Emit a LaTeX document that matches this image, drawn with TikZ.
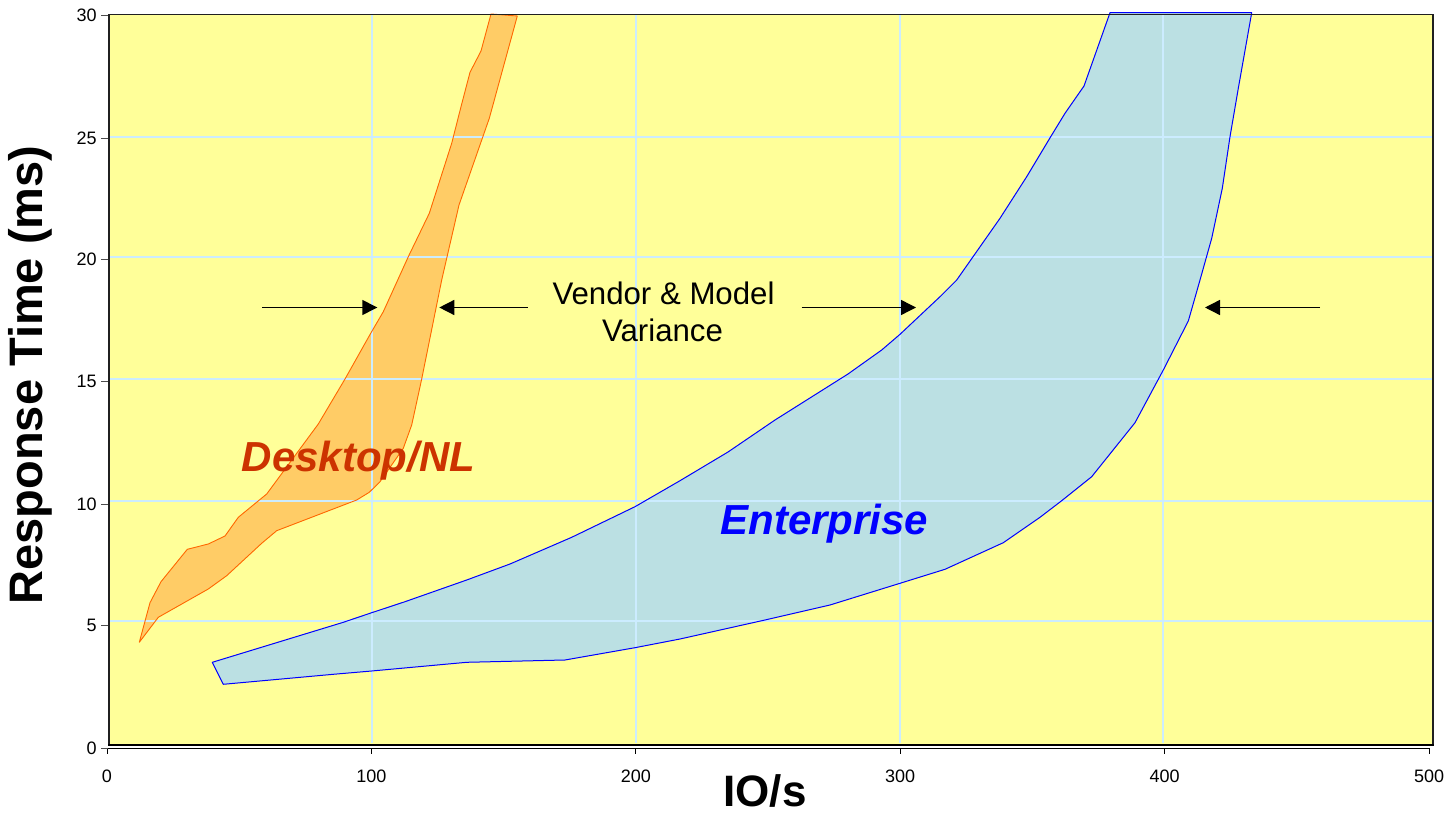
\documentclass[tikz,border=0pt]{standalone}
\usepackage{fontspec}
\setmainfont{Liberation Sans}
\usetikzlibrary{arrows.meta}
\definecolor{bgyellow}{HTML}{FFFF99}
\definecolor{gridblue}{HTML}{CCECFF}
\definecolor{orfill}{HTML}{FFCC66}
\definecolor{oredge}{HTML}{FF6600}
\definecolor{blfill}{HTML}{BBE0E3}
\definecolor{bledge}{HTML}{0000FF}
\definecolor{desktopred}{HTML}{CC3300}
\definecolor{frame}{HTML}{202020}
\begin{document}
\begin{tikzpicture}[x=0.5pt,y=-0.5pt,
  gridline/.style={gridblue,line width=1pt},
  orshape/.style={oredge,line width=0.45pt,line join=round},
  blshape/.style={bledge,line width=0.5pt,line join=round},
  varrow/.style={black,line width=0.7pt,-{Triangle[length=7.5pt,width=7.5pt]}},
  ticklab/.style={font=\fontsize{9}{11}\selectfont,inner sep=0pt},
  bigitalic/.style={font=\fontsize{21}{25}\selectfont\bfseries\itshape,inner sep=0pt},
  vlabel/.style={font=\fontsize{15.6}{18}\selectfont,inner sep=0pt}]
\useasboundingbox (0,0) rectangle (1450,817);
\fill[white] (0,0) rectangle (1450,817);
\fill[bgyellow] (109,14) rectangle (1433,744);
% shapes (fill)
\def\orpath{(139.3,642.3) -- (150,602.7) -- (161,581.7) -- (187.3,549.3) -- (208.3,544) -- (225,536) -- (238.3,517.3) -- (266.7,494) -- (318.3,424) -- (345,379) -- (370.7,333.3) -- (383.3,311.7) -- (408.3,256.7) -- (429.3,213.3) -- (451.7,143.3) -- (461,106.7) -- (470,72.3) -- (481,51) -- (491,14) -- (517.3,16) -- (489.3,118.3) -- (459,205) -- (441.7,280) -- (421.7,379) -- (411.7,425) -- (403.3,448.3) -- (380,481.7) -- (369.3,492.3) -- (356.7,500) -- (276.7,530.7) -- (261.7,543.3) -- (226.7,575.7) -- (208.3,589) -- (158.3,617.3) -- cycle}
\def\blpath{(212.3,662.3) -- (343.3,622.3) -- (371.7,612.7) -- (405,601.7) -- (466.7,580) -- (510,564) -- (571.7,537.3) -- (635,506.7) -- (680,480.7) -- (728,452) -- (775,420) -- (848,374) -- (881.7,350) -- (900,334.3) -- (940,296.7) -- (956.7,280) -- (1000,218.3) -- (1026.7,176.7) -- (1050.7,136.7) -- (1065,113.3) -- (1084,86) -- (1110,12.7) -- (1251.7,12.7) -- (1238.3,88.3) -- (1230,136.7) -- (1222.3,188.3) -- (1211.7,238.3) -- (1200,280) -- (1188.3,321) -- (1163.3,370) -- (1135,422.7) -- (1091.7,476.7) -- (1061.7,500.7) -- (1040,517.3) -- (1003.3,542.7) -- (945,569.3) -- (900,583.3) -- (830,605) -- (765,620) -- (680,639) -- (635,647.7) -- (565,660) -- (466.7,662.3) -- (371.7,671) -- (333.3,674.3) -- (223.3,684.3) -- cycle}
\fill[orfill] \orpath;
\fill[blfill] \blpath;
% grid
\foreach \gx in {371.7,635.7,900,1163} \draw[gridline] (\gx,15) -- (\gx,743);
\foreach \gy in {136.7,256.7,379,500.7,620.7} \draw[gridline] (110,\gy) -- (1432,\gy);
% outlines
\draw[orshape] \orpath;
\draw[blshape] \blpath;
% frame
\draw[frame,line width=0.75pt] (109,744.5) -- (109,14.5) -- (1433,14.5) -- (1433,744.5);
\draw[black,line width=1.4pt] (108.3,745) -- (1433.7,745);
% axes
\draw[black,line width=0.6pt] (107,748.3) -- (1429,748.3);
\foreach \tx/\lab in {107/0,371.4/100,635.8/200,900.2/300,1164.6/400,1429/500}{
  \draw[black,line width=0.5pt] (\tx,748.3) -- (\tx,754);
  \node[ticklab] (xl\lab) at (\tx,776) {\lab};
}
\foreach \ty/\lab in {748/0,625.7/5,504.3/10,381.7/15,259.3/20,138.3/25,15.7/30}{
  \draw[black!70,line width=0.5pt] (101,\ty) -- (108,\ty);
  \node[ticklab,anchor=east] (yl\lab) at (97,\ty) {\lab};
}
% axis titles
\node[font=\fontsize{23.5}{28}\selectfont\bfseries,rotate=90,inner sep=0pt] (ytitle) at (30,375) {Response Time (ms)};
\node[font=\fontsize{22}{26}\selectfont\bfseries,anchor=base,inner sep=0pt] (xtitle) at (765,806) {IO/s};
% labels
\node[bigitalic,text=desktopred,anchor=base west] (desk) at (241.5,471.7) {Desktop/NL};
\node[bigitalic,text=bledge,anchor=base west] (ent) at (720,535) {Enterprise};
\node[vlabel,anchor=base] (vm1) at (663.5,305) {Vendor \& Model};
\node[vlabel,anchor=base] (vm2) at (662.5,342) {Variance};
% arrows
\coordinate (a1s) at (262.3,307.5); \coordinate (a1e) at (377.3,307.5);
\coordinate (a2s) at (527.7,307.5); \coordinate (a2e) at (439.3,307.5);
\coordinate (a3s) at (801.7,307.5); \coordinate (a3e) at (916,307.5);
\coordinate (a4s) at (1320,307.5); \coordinate (a4e) at (1205,307.5);
\draw[varrow] (a1s) -- (a1e);
\draw[varrow] (a2s) -- (a2e);
\draw[varrow] (a3s) -- (a3e);
\draw[varrow] (a4s) -- (a4e);
\end{tikzpicture}
\end{document}
